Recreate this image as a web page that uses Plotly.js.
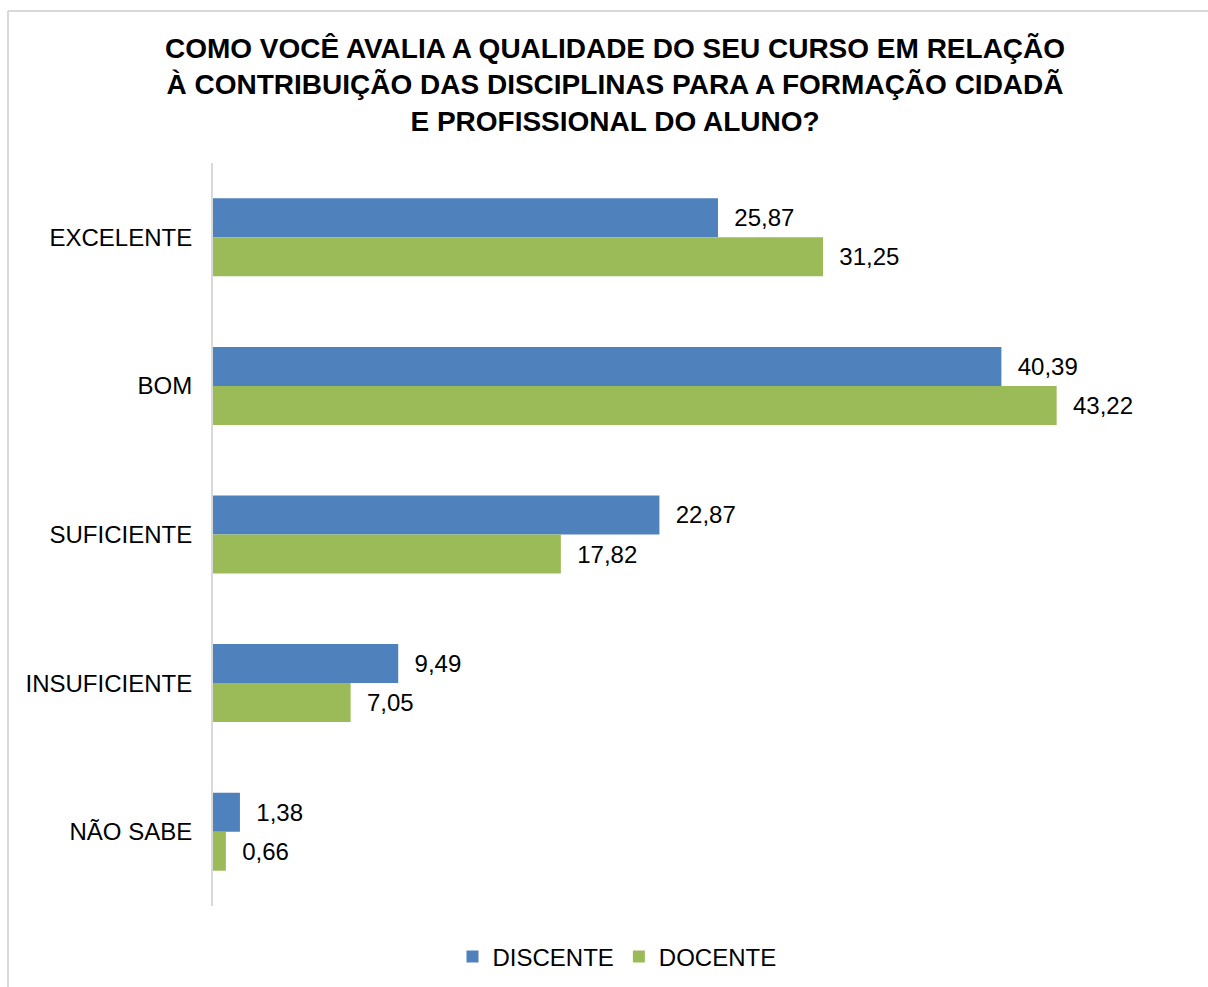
<!DOCTYPE html>
<html>
<head>
<meta charset="utf-8">
<script src="https://cdn.plot.ly/plotly-3.0.1.min.js"></script>
<style>html,body{margin:0;padding:0;background:#fff;}#chart{width:1208px;height:987px;}</style>
</head>
<body>
<div id="chart"></div>
<script>
const categories = ["EXCELENTE", "BOM", "SUFICIENTE", "INSUFICIENTE", "NÃO SABE"];
const discente = [25.87, 40.39, 22.87, 9.49, 1.38];
const docente = [31.25, 43.22, 17.82, 7.05, 0.66];
const seriesNames = ["DISCENTE", "DOCENTE"];
const titleText = "COMO VOCÊ AVALIA A QUALIDADE DO SEU CURSO EM RELAÇÃO<br>À CONTRIBUIÇÃO DAS DISCIPLINAS PARA A FORMAÇÃO CIDADÃ<br>E PROFISSIONAL DO ALUNO?";

const FONT = "Liberation Sans, Arial, sans-serif";
const pad = "\u00a0\u00a0";

const traces = [
  {
    type: "bar", orientation: "h", name: seriesNames[0],
    x: discente, y: categories,
    marker: {color: "#4F81BD"},
    texttemplate: pad + "%{x:.2f}", textposition: "outside", cliponaxis: false,
    textfont: {family: FONT, size: 24, color: "#000"},
    hoverinfo: "none"
  },
  {
    type: "bar", orientation: "h", name: seriesNames[1],
    x: docente, y: categories,
    marker: {color: "#9BBB59"},
    texttemplate: pad + "%{x:.2f}", textposition: "outside", cliponaxis: false,
    textfont: {family: FONT, size: 24, color: "#000"},
    hoverinfo: "none"
  }
];

const layout = {
  width: 1208, height: 987,
  separators: ",.",
  paper_bgcolor: "#fff", plot_bgcolor: "#fff",
  margin: {l: 213, r: 19, t: 163, b: 81},
  font: {family: FONT, size: 24, color: "#000"},
  title: {
    text: "<b>" + titleText + "</b>",
    font: {family: FONT, size: 28, color: "#000"},
    x: 615/1208, xanchor: "center", xref: "container",
    y: 1 - 58/987, yanchor: "top", yref: "container"
  },
  barmode: "group", bargap: 0.475, bargroupgap: 0,
  xaxis: {range: [0, 50], visible: false, showgrid: false, zeroline: false},
  yaxis: {
    autorange: "reversed", showline: true, linecolor: "#d9d9d9", linewidth: 2,
    showgrid: false, zeroline: false, ticks: "", ticklabelstandoff: 14,
    tickfont: {family: FONT, size: 24, color: "#000"}
  },
  showlegend: true,
  legend: {
    orientation: "h", x: 617/1208, xanchor: "center", xref: "container",
    y: 1 - 957/987, yref: "container", yanchor: "middle",
    font: {family: FONT, size: 24, color: "#000"},
    itemwidth: 30, traceorder: "normal"
  },
  shapes: [
    {type: "line", xref: "paper", yref: "paper", x0: -205/976, x1: 995/976, y0: 1 + 152/743, y1: 1 + 152/743, line: {color: "#d9d9d9", width: 2}},
    {type: "line", xref: "paper", yref: "paper", x0: -205/976, x1: -205/976, y0: 1 + 152/743, y1: -81/743, line: {color: "#d9d9d9", width: 2}}
  ]
};

Plotly.newPlot("chart", traces, layout, {displayModeBar: false, staticPlot: true});
</script>
</body>
</html>
